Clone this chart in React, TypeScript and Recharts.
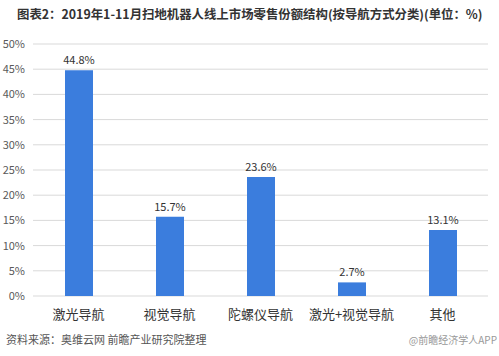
import { BarChart, Bar, XAxis, YAxis, CartesianGrid, LabelList } from "recharts";

const categories = ["激光导航", "视觉导航", "陀螺仪导航", "激光+视觉导航", "其他"];
const shares = [44.8, 15.7, 23.6, 2.7, 13.1];
const yTicks = [0, 5, 10, 15, 20, 25, 30, 35, 40, 45, 50];

const data = categories.map((name, i) => ({ name, value: shares[i] }));

const FONT = "'Noto Sans CJK SC', 'Noto Sans', sans-serif";

export default function App() {
  return (
    <div
      style={{
        position: "fixed",
        left: 0,
        top: 0,
        width: 499,
        height: 356,
        background: "#fff",
        fontFamily: FONT,
        overflow: "hidden",
      }}
    >
      <div
        style={{
          position: "absolute",
          left: 17,
          top: 5,
          fontSize: 12.4,
          fontWeight: 700,
          color: "#333",
          whiteSpace: "nowrap",
          lineHeight: "18px",
        }}
      >
        图表2：2019年1-11月扫地机器人线上市场零售份额结构(按导航方式分类)(单位：%)
      </div>
      <BarChart
        width={499}
        height={356}
        data={data}
        margin={{ top: 44, right: 11, left: 0, bottom: 40 }}
        style={{ position: "absolute", left: 0, top: 0 }}
      >
        <CartesianGrid vertical={false} stroke="#d9d9d9" />
        <XAxis
          dataKey="name"
          axisLine={false}
          tickLine={false}
          height={20}
          tick={{ fontSize: 13, fill: "#333", fontFamily: FONT }}
          tickMargin={8}
        />
        <YAxis
          domain={[0, 50]}
          ticks={yTicks}
          width={33}
          axisLine={false}
          tickLine={false}
          tickFormatter={(v) => `${v}%`}
          tick={{ fontSize: 11, fill: "#595959", fontFamily: FONT }}
          tickMargin={2}
        />
        <Bar dataKey="value" fill="#3b7ddd" barSize={28} isAnimationActive={false}>
          <LabelList
            dataKey="value"
            position="top"
            offset={6}
            formatter={(v: number) => `${v}%`}
            style={{ fontSize: 11, fill: "#333", fontFamily: FONT }}
          />
        </Bar>
      </BarChart>
      <div
        style={{
          position: "absolute",
          left: 6,
          top: 331,
          fontSize: 11,
          color: "#555",
          whiteSpace: "nowrap",
        }}
      >
        资料来源：奥维云网 前瞻产业研究院整理
      </div>
      <div
        style={{
          position: "absolute",
          right: 2,
          top: 332,
          fontSize: 10,
          color: "#999",
          whiteSpace: "nowrap",
        }}
      >
        @前瞻经济学人APP
      </div>
    </div>
  );
}
